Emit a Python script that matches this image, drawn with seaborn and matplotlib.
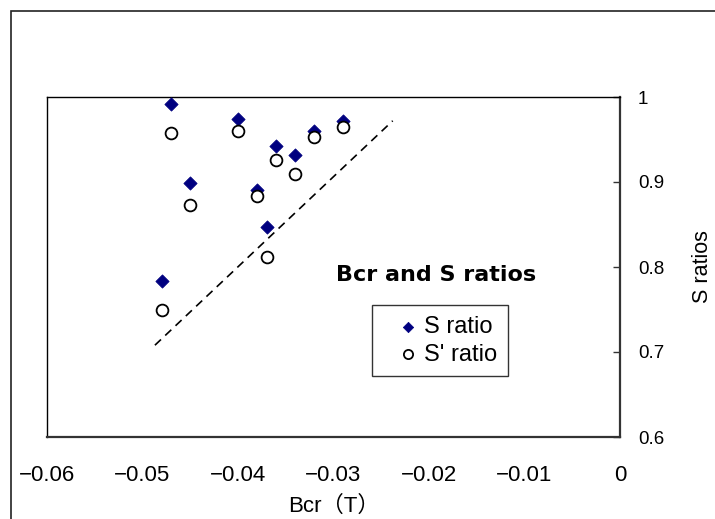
import numpy as np
import pandas as pd
import seaborn as sns
import matplotlib.pyplot as plt
from matplotlib.patches import Rectangle

# data
bcr = [-0.048, -0.047, -0.045, -0.040, -0.038, -0.037, -0.036, -0.034, -0.032, -0.029]
s_ratio = [0.784, 0.992, 0.899, 0.974, 0.891, 0.847, 0.942, 0.932, 0.960, 0.972]
s2_ratio = [0.749, 0.958, 0.873, 0.960, 0.883, 0.812, 0.926, 0.909, 0.953, 0.965]
line_x = [-0.0487, -0.0238]
line_y = [0.708, 0.972]

x_ticks = [-0.06, -0.05, -0.04, -0.03, -0.02, -0.01, 0]
x_labels = ['\u22120.06', '\u22120.05', '\u22120.04', '\u22120.03', '\u22120.02', '\u22120.01', '0']
y_ticks = [0.6, 0.7, 0.8, 0.9, 1.0]
y_labels = ['0.6', '0.7', '0.8', '0.9', '1']

df = pd.DataFrame({'Bcr': bcr, 'S': s_ratio, 'S2': s2_ratio})

sns.set_style("white")
plt.rcParams['font.family'] = ['Liberation Sans', 'Noto Sans CJK JP', 'DejaVu Sans']
plt.rcParams['text.color'] = 'black'
plt.rcParams['axes.labelcolor'] = 'black'
plt.rcParams['xtick.color'] = 'black'
plt.rcParams['ytick.color'] = 'black'

fig = plt.figure(figsize=(7.15, 5.19), dpi=100)
ax = fig.add_axes([47/715, 1-437/519, 573/715, 340/519])

# outer chart-area frame (cropped on right/bottom)
fig.add_artist(Rectangle((10.5/715, -0.1), 1.2, 1.1 - 11/519, transform=fig.transFigure,
                         fill=False, edgecolor='#222222', linewidth=1.2))

sns.lineplot(x=line_x, y=line_y, ax=ax, color='black', linestyle=(0, (5, 3.5)),
             linewidth=1.2, legend=False)
sns.scatterplot(data=df, x='Bcr', y='S', ax=ax, marker='D', s=46, color='#000080',
                edgecolor='#000080', linewidth=0.5, label='S ratio', zorder=3)
sns.scatterplot(data=df, x='Bcr', y='S2', ax=ax, marker='o', s=72, facecolor='white',
                edgecolor='black', linewidth=1.3, label="S' ratio", zorder=4)

ax.set_xlim(-0.06, 0)
ax.set_ylim(0.6, 1.0)
ax.set_xticks(x_ticks)
ax.set_xticklabels(x_labels)
ax.set_yticks(y_ticks)
ax.set_yticklabels(y_labels)
ax.yaxis.tick_right()
ax.yaxis.set_label_position('right')
ax.tick_params(axis='x', direction='in', length=6, width=1, color='#333333', pad=20, labelsize=16)
ax.tick_params(axis='y', direction='in', length=5, width=1, color='#333333', pad=13, labelsize=13.5)

for side in ['left', 'top']:
    ax.spines[side].set_color('black')
    ax.spines[side].set_linewidth(1)
for side in ['bottom', 'right']:
    ax.spines[side].set_color('#333333')
    ax.spines[side].set_linewidth(1.6)

ax.set_xlabel('Bcr\uff08T\uff09', fontsize=16, labelpad=7)
ax.set_ylabel('S ratios', fontsize=15.5, rotation=90, labelpad=20)

ax.text(0.504, 0.476, 'Bcr and S ratios', transform=ax.transAxes, fontsize=16,
        fontweight='bold', family='DejaVu Sans', ha='left', va='center')

leg = ax.legend(loc='upper left', bbox_to_anchor=(0.567, 0.388), borderaxespad=0,
                fontsize=17, markerscale=0.78, frameon=True, fancybox=False,
                handletextpad=-0.45, borderpad=0.45, labelspacing=0.25, handlelength=2.2)
leg.get_frame().set_edgecolor('black')
leg.get_frame().set_linewidth(1)

plt.savefig('out.png', dpi=100)
